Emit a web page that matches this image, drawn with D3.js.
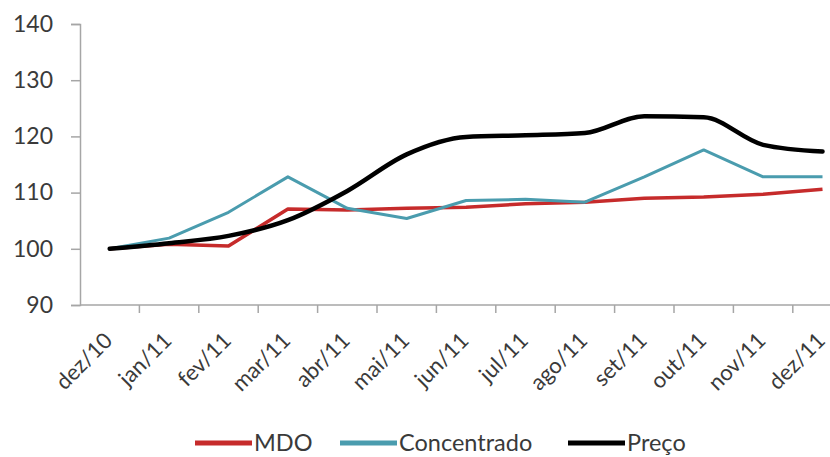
<!DOCTYPE html>
<html><head><meta charset="utf-8">
<script src="https://cdn.jsdelivr.net/npm/d3@7"></script>
<style>body{margin:0;background:#fff;} text{font-family:Lato,"Open Sans",sans-serif;fill:#3a3a3a;}</style>
</head><body><svg id="c" width="830" height="457"></svg>
<script>
const categories = ["dez/10","jan/11","fev/11","mar/11","abr/11","mai/11","jun/11","jul/11","ago/11","set/11","out/11","nov/11","dez/11"];
const mdo = [100, 100.8, 100.5, 107.1, 106.9, 107.2, 107.4, 108.0, 108.3, 109.0, 109.2, 109.7, 110.6];
const concentrado = [100, 101.9, 106.5, 112.8, 107.2, 105.4, 108.6, 108.8, 108.3, 112.8, 117.6, 112.8, 112.8];
const preco = [100, 101.0, 102.3, 105.1, 110.3, 116.8, 119.9, 120.2, 120.6, 123.6, 123.4, 118.5, 117.3];
const yTicks = [90, 100, 110, 120, 130, 140];
const seriesNames = ["MDO", "Concentrado", "Preço"];

(function () {
const svg = d3.select("#c");
const mLeft = 80, mBottom = 305, mTop = 24;
const x = d3.scaleBand().domain(categories).range([mLeft, mLeft + 13 * 59.4]);
const y = d3.scaleLinear().domain([90, 140]).range([mBottom, mTop]);

// y axis
const ya = svg.append("g").attr("transform", `translate(${mLeft},0)`)
  .call(d3.axisLeft(y).tickValues(yTicks).tickSize(9).tickPadding(18));
ya.select(".domain").attr("stroke", "#a6a6a6").attr("stroke-width", 1.5);
ya.selectAll(".tick line").attr("stroke", "#a6a6a6").attr("stroke-width", 1.5);
ya.selectAll(".tick text").style("font-size", "23px").attr("fill", "#3a3a3a").attr("font-family", "Lato,'Open Sans',sans-serif");

// x axis
const xa = svg.append("g").attr("transform", `translate(0,${mBottom})`);
xa.append("line").attr("x1", mLeft).attr("x2", 830).attr("stroke", "#a6a6a6").attr("stroke-width", 1.5);
xa.selectAll("line.tk").data(categories.slice(1)).join("line").attr("class", "tk")
  .attr("x1", d => x(d)).attr("x2", d => x(d)).attr("y1", 0).attr("y2", 8)
  .attr("stroke", "#a6a6a6").attr("stroke-width", 1.5);
xa.selectAll("text").data(categories).join("text")
  .attr("transform", d => `translate(${x(d) + x.bandwidth() / 2 + 4},${37}) rotate(-45)`)
  .attr("text-anchor", "end")
  .style("font-size", "22px").text(d => d);

const cx = (d, i) => x(categories[i]) + x.bandwidth() / 2;
const lineStraight = d3.line().x(cx).y(d => y(d));
const lineSmooth = d3.line().x(cx).y(d => y(d)).curve(d3.curveMonotoneX);

const colors = ["#c62b2b", "#4a9cae", "#000000"];
const widths = [3.5, 3, 4.5];
svg.append("path").datum(mdo).attr("d", lineStraight).attr("fill", "none").attr("stroke", colors[0]).attr("stroke-width", widths[0]).attr("stroke-linejoin", "round");
svg.append("path").datum(concentrado).attr("d", lineStraight).attr("fill", "none").attr("stroke", colors[1]).attr("stroke-width", widths[1]).attr("stroke-linejoin", "round");
svg.append("path").datum(preco).attr("d", lineSmooth).attr("fill", "none").attr("stroke", colors[2]).attr("stroke-width", widths[2]).attr("stroke-linejoin", "round").attr("stroke-linecap", "round");

// legend
const legX = [195, 340, 568];
const lg = svg.append("g");
seriesNames.forEach((n, i) => {
  lg.append("line").attr("x1", legX[i]).attr("x2", legX[i] + 57).attr("y1", 443).attr("y2", 443)
    .attr("stroke", colors[i]).attr("stroke-width", 5);
  lg.append("text").attr("x", legX[i] + 59).attr("y", 451)
    .style("font-size", "23.5px").text(n);
});
})();
</script></body></html>
